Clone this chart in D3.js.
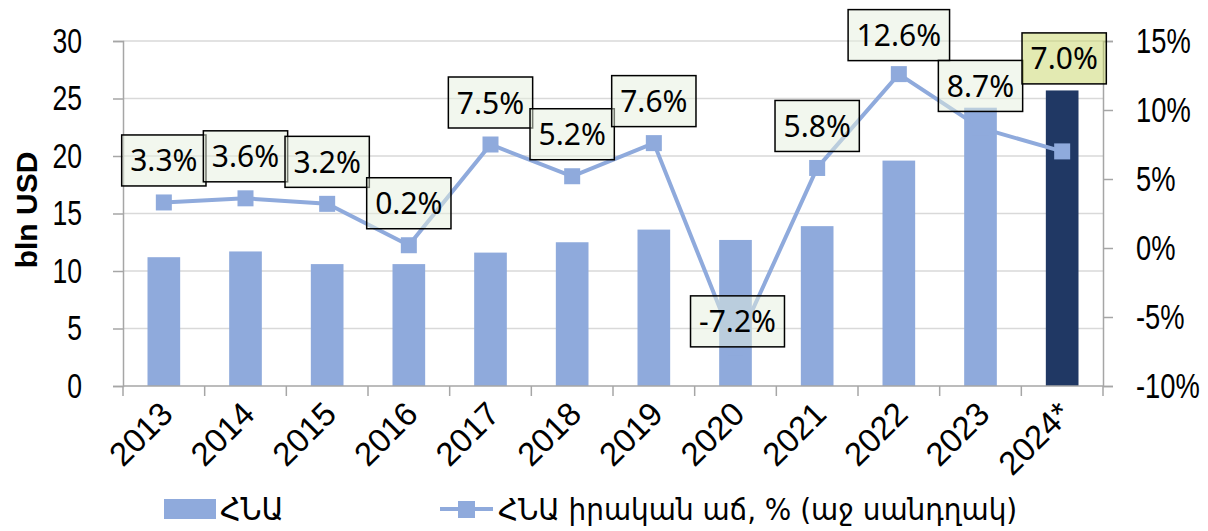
<!DOCTYPE html>
<html>
<head>
<meta charset="utf-8">
<script src="https://cdn.jsdelivr.net/npm/d3@7"></script>
<style>
  body { margin: 0; background: #fff; }
  svg { display: block; }
</style>
</head>
<body>
<div id="chart"></div>
<script>
// Data
const years = ["2013", "2014", "2015", "2016", "2017", "2018", "2019", "2020", "2021", "2022", "2023", "2024*"];
const gdp = [11.2, 11.7, 10.6, 10.6, 11.6, 12.5, 13.6, 12.7, 13.9, 19.6, 24.2, 25.7];
const growth = [3.3, 3.6, 3.2, 0.2, 7.5, 5.2, 7.6, -7.2, 5.8, 12.6, 8.7, 7.0];
const leftTicks = [0, 5, 10, 15, 20, 25, 30];
const rightTicks = [-10, -5, 0, 5, 10, 15];

// label box shifts relative to each point (x, y) in px
const labelShift = [[0, -42], [0, -42], [0, -42], [0, -42], [0, -42], [0, -42],
                    [0, -42], [2, -26], [0, -42], [0, -39], [0, -42], [2, -93]];

const width = 1208;
const height = 531;
const margin = { top: 41, right: 105, bottom: 145, left: 123 };
const plotW = width - margin.left - margin.right;
const plotH = height - margin.top - margin.bottom;

const barColor = "#8faadc";
const lastBarColor = "#203864";
const axisColor = "#a6a6a6";
const gridColor = "#d9d9d9";
const numFont = "'Liberation Sans', Arial, sans-serif";
const armFont = "'DejaVu Sans Condensed', 'DejaVu Sans', sans-serif";
const squeeze = 0.76; // narrow look of the axis numbers

const svg = d3.select("#chart")
    .append("svg")
    .attr("width", width)
    .attr("height", height);

const g = svg.append("g")
    .attr("transform", `translate(${margin.left},${margin.top})`);

// Scales
const x = d3.scaleBand()
    .domain(years)
    .range([0, plotW])
    .padding(0);

const yLeft = d3.scaleLinear()
    .domain([0, 30])
    .range([plotH, 0]);

const yRight = d3.scaleLinear()
    .domain([-10, 15])
    .range([plotH, 0]);

// Gridlines
g.append("g")
    .selectAll("line")
    .data(leftTicks.filter(d => d > 0))
    .join("line")
    .attr("x1", 0)
    .attr("x2", plotW)
    .attr("y1", d => yLeft(d))
    .attr("y2", d => yLeft(d))
    .attr("stroke", gridColor)
    .attr("stroke-width", 1.5);

// Bars
const barW = x.bandwidth() * 0.4;
g.append("g")
    .selectAll("rect")
    .data(years.map((y, i) => ({ year: y, value: gdp[i], last: i === years.length - 1 })))
    .join("rect")
    .attr("x", d => x(d.year) + (x.bandwidth() - barW) / 2)
    .attr("y", d => yLeft(d.value))
    .attr("width", barW)
    .attr("height", d => plotH - yLeft(d.value))
    .attr("fill", d => d.last ? lastBarColor : barColor);

// Left axis
const leftAxis = g.append("g")
    .call(d3.axisLeft(yLeft).tickValues(leftTicks).tickSize(10).tickPadding(31));
leftAxis.select(".domain").attr("stroke", axisColor).attr("stroke-width", 1.5);
leftAxis.selectAll(".tick line").attr("stroke", axisColor).attr("stroke-width", 1.5);
leftAxis.selectAll("text")
    .attr("x", -41 / squeeze)
    .attr("transform", `scale(${squeeze},1)`)
    .style("font-family", numFont)
    .style("font-size", "35px")
    .attr("fill", "#000");

// Right axis
const rightAxis = g.append("g")
    .attr("transform", `translate(${plotW},0)`)
    .call(d3.axisRight(yRight).tickValues(rightTicks).tickSize(10).tickPadding(23)
        .tickFormat(d => d + "%"));
rightAxis.select(".domain").attr("stroke", axisColor).attr("stroke-width", 1.5);
rightAxis.selectAll(".tick line").attr("stroke", axisColor).attr("stroke-width", 1.5);
rightAxis.selectAll("text")
    .attr("x", 33 / squeeze)
    .attr("transform", `scale(${squeeze},1)`)
    .style("font-family", numFont)
    .style("font-size", "36px")
    .attr("fill", "#000");

// Bottom axis: line plus ticks at category boundaries
const bottom = g.append("g").attr("transform", `translate(0,${plotH})`);
bottom.append("line")
    .attr("x1", 0).attr("x2", plotW)
    .attr("stroke", axisColor).attr("stroke-width", 1.5);
const bounds = years.map(d => x(d)).concat([x.range()[1]]);
bottom.selectAll(".bt")
    .data(bounds)
    .join("line")
    .attr("class", "bt")
    .attr("x1", d => d).attr("x2", d => d)
    .attr("y1", 0).attr("y2", 10)
    .attr("stroke", axisColor).attr("stroke-width", 1.5);
bottom.selectAll("text")
    .data(years)
    .join("text")
    .attr("transform", d => `translate(${x(d) + x.bandwidth() / 2 + 11},30) rotate(-45)`)
    .attr("text-anchor", "end")
    .style("font-family", numFont)
    .style("font-size", "33px")
    .text(d => d);

// Growth line
const cx = d => x(d.year) + x.bandwidth() / 2;
const pts = years.map((y, i) => ({ year: y, value: growth[i], shift: labelShift[i], last: i === years.length - 1 }));

g.append("path")
    .datum(pts)
    .attr("fill", "none")
    .attr("stroke", barColor)
    .attr("stroke-width", 4)
    .attr("d", d3.line().x(cx).y(d => yRight(d.value)));

g.append("g")
    .selectAll("rect")
    .data(pts)
    .join("rect")
    .attr("x", d => cx(d) - 8)
    .attr("y", d => yRight(d.value) - 8)
    .attr("width", 16)
    .attr("height", 16)
    .attr("fill", barColor);

// Data labels in boxes
const labels = g.append("g")
    .selectAll("g")
    .data(pts)
    .join("g")
    .attr("transform", d => `translate(${cx(d) + d.shift[0]},${yRight(d.value) + d.shift[1]})`);

labels.append("rect").attr("class", "box");
labels.append("text")
    .attr("text-anchor", "middle")
    .attr("y", 11)
    .style("font-family", "'Noto Sans', sans-serif")
    .style("font-size", "30px")
    .attr("fill", "#000")
    .text(d => d.value.toFixed(1) + "%");

labels.each(function(d) {
    const t = d3.select(this).select("text").node().getBBox();
    const w = t.width + 17;
    d3.select(this).select("rect.box")
        .attr("x", -w / 2)
        .attr("y", -25.5)
        .attr("width", w)
        .attr("height", 51)
        .attr("fill", d.last ? "#c7d565" : "#e5efdd")
        .attr("fill-opacity", 0.5)
        .attr("stroke", "#000")
        .attr("stroke-width", 1.5);
});

// Left axis title
svg.append("text")
    .attr("transform", "translate(37,210) rotate(-90)")
    .attr("text-anchor", "middle")
    .style("font-family", "'Liberation Sans', Arial, sans-serif")
    .style("font-weight", "bold")
    .style("font-size", "30px")
    .text("bln USD");

// Legend
const legend = svg.append("g");
legend.append("rect")
    .attr("x", 164).attr("y", 499)
    .attr("width", 52).attr("height", 20)
    .attr("fill", barColor);
legend.append("text")
    .attr("x", 220).attr("y", 520)
    .style("font-family", armFont)
    .style("font-size", "32px")
    .text("ՀՆԱ");
legend.append("line")
    .attr("x1", 440).attr("x2", 493)
    .attr("y1", 509).attr("y2", 509)
    .attr("stroke", barColor).attr("stroke-width", 4);
legend.append("rect")
    .attr("x", 458).attr("y", 501)
    .attr("width", 17).attr("height", 17)
    .attr("fill", barColor);
legend.append("text")
    .attr("x", 498).attr("y", 520)
    .style("font-family", armFont)
    .style("font-size", "31px")
    .text("ՀՆԱ իրական աճ, % (աջ սանդղակ)");
</script>
</body>
</html>
